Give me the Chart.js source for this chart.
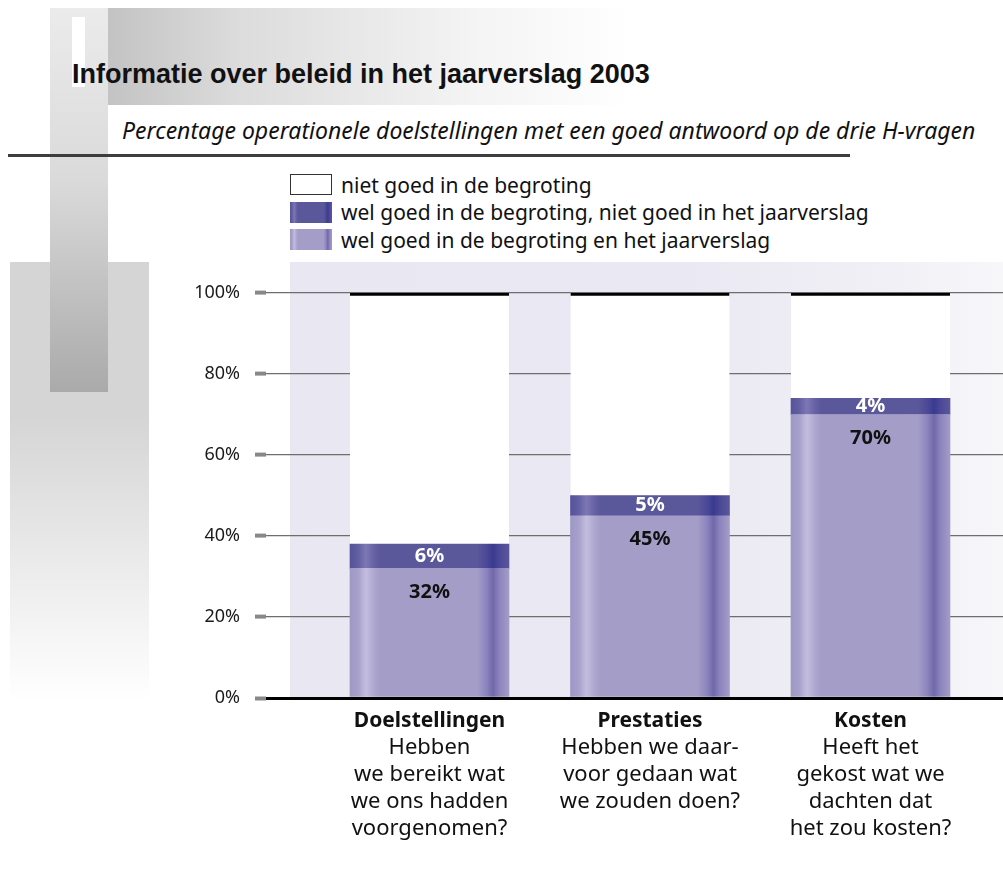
<!DOCTYPE html>
<html lang="nl">
<head>
<meta charset="utf-8">
<title>Informatie over beleid in het jaarverslag 2003</title>
<script src="https://cdn.jsdelivr.net/npm/chart.js@4.4.1/dist/chart.umd.min.js"></script>
<style>
  html, body { margin: 0; padding: 0; background: #fff; }
  body { width: 1003px; height: 881px; position: relative; overflow: hidden; font-family: "Noto Sans", sans-serif; color: #111; }
  .deco { position: absolute; }
  #side { left: 10px; top: 262px; width: 139px; height: 440px; background: linear-gradient(to bottom, #d5d5d5 0%, #d5d5d5 35%, #ffffff 100%); }
  #column { left: 50px; top: 8px; width: 58px; height: 384px; background: linear-gradient(to bottom, #ebebeb 0%, #dadada 45%, #aaaaaa 100%); }
  #banner { left: 108px; top: 8px; width: 525px; height: 97px; background: linear-gradient(to right, #c3c3c3 0%, #dcdcdc 25%, #f4f4f4 70%, #ffffff 100%); }
  #tick { left: 72px; top: 17px; width: 13px; height: 70px; background: #fff; }
  #plotbg { left: 290px; top: 262px; width: 713px; height: 436px; background: linear-gradient(to right, #e9e7f1 0%, #eae8f2 55%, #f1f0f6 85%, #f7f7fa 100%); }
  #rule { left: 8px; top: 154px; width: 842px; height: 3px; background: #3d3d3d; }
  h1 { position: absolute; left: 72px; top: 59px; margin: 0; font: bold 27px "Liberation Sans", Arial, sans-serif; white-space: nowrap; }
  h2 { position: absolute; left: 122px; top: 114px; margin: 0; font: italic 23px "Noto Sans", sans-serif; font-weight: normal; white-space: nowrap; }
  #legend { position: absolute; left: 290px; top: 171px; font-size: 21px; }
  #legend div { height: 27.5px; display: flex; align-items: center; white-space: nowrap; }
  #legend span.box { display: inline-block; width: 42px; height: 21px; margin-right: 9px; box-sizing: border-box; }
  #wrap { position: absolute; left: 0; top: 0; width: 1003px; height: 881px; }
</style>
</head>
<body>
<div class="deco" id="side"></div>
<div class="deco" id="column"></div>
<div class="deco" id="banner"></div>
<div class="deco" id="tick"></div>
<div class="deco" id="plotbg"></div>
<div class="deco" id="rule"></div>
<h1>Informatie over beleid in het jaarverslag 2003</h1>
<h2>Percentage operationele doelstellingen met een goed antwoord op de drie H-vragen</h2>
<div id="legend"></div>
<div id="wrap"><canvas id="chart"></canvas></div>

<script>
// categorieen en vragen onder de staven
const categories = ["Doelstellingen", "Prestaties", "Kosten"];
const questions = [
  ["Hebben", "we bereikt wat", "we ons hadden", "voorgenomen?"],
  ["Hebben we daar-", "voor gedaan wat", "we zouden doen?"],
  ["Heeft het", "gekost wat we", "dachten dat", "het zou kosten?"]
];

// percentages per categorie
const goedBeide = [32, 45, 70];      // wel goed in begroting en jaarverslag
const goedBegroting = [6, 5, 4];     // wel goed in begroting, niet in jaarverslag
const nietGoed = [62, 50, 26];       // niet goed in de begroting

const seriesLabels = [
  "wel goed in de begroting en het jaarverslag",
  "wel goed in de begroting, niet goed in het jaarverslag",
  "niet goed in de begroting"
];

const yTicks = [0, 20, 40, 60, 80, 100];

const BAR_W = 159;

// kleurverloop over de breedte van een staaf (licht streepje links, donker rechts)
const lightStops = [
  [0, "#9e98c5"], [0.05, "#a6a0cb"], [0.1, "#c3bedf"], [0.15, "#aea8d1"], [0.19, "#a39dc7"],
  [0.8, "#a39dc7"], [0.86, "#8b83bd"], [0.9, "#7168aa"], [0.94, "#8c84bd"], [1, "#a39dc7"]
];
const darkStops = [
  [0, "#57539a"], [0.05, "#625ea3"], [0.1, "#7d78b4"], [0.15, "#6762a5"], [0.19, "#5b579b"],
  [0.8, "#5b579b"], [0.86, "#4b4897"], [0.9, "#3a3a8f"], [0.94, "#4b4897"], [1, "#5b579b"]
];

function barFill(stops) {
  return function (ctx) {
    const x = ctx.chart.scales.x;
    if (ctx.type !== "data" || !x) return stops[4][1];
    const cx = x.getPixelForValue(ctx.dataIndex);
    if (!isFinite(cx)) return stops[4][1];
    const g = ctx.chart.ctx.createLinearGradient(cx - BAR_W / 2, 0, cx + BAR_W / 2, 0);
    stops.forEach(function (s) { g.addColorStop(s[0], s[1]); });
    return g;
  };
}

function cssGradient(stops) {
  return "linear-gradient(to right, " + stops.map(function (s) { return s[1] + " " + (s[0] * 100) + "%"; }).join(", ") + ")";
}

function points(values) {
  return values.map(function (v, i) { return { x: i, y: v }; });
}

// percentages in de staven
const valueLabels = {
  id: "valueLabels",
  afterDatasetsDraw(chart) {
    const ctx = chart.ctx;
    ctx.save();
    ctx.font = "bold 20px 'Noto Sans', sans-serif";
    ctx.textAlign = "center";
    ctx.textBaseline = "middle";
    chart.getDatasetMeta(1).data.forEach(function (bar, i) {
      ctx.fillStyle = "#fff";
      ctx.fillText(goedBegroting[i] + "%", bar.x, (bar.y + bar.base) / 2);
    });
    chart.getDatasetMeta(0).data.forEach(function (bar, i) {
      ctx.fillStyle = "#111";
      ctx.fillText(goedBeide[i] + "%", bar.x, bar.y + 24);
    });
    ctx.restore();
  }
};

// categorienaam vet, daaronder de vraag
const categoryLabels = {
  id: "categoryLabels",
  afterDraw(chart) {
    const ctx = chart.ctx;
    const x = chart.scales.x;
    const top = chart.chartArea.bottom + 23;
    ctx.save();
    ctx.textAlign = "center";
    ctx.textBaseline = "middle";
    ctx.fillStyle = "#111";
    categories.forEach(function (name, i) {
      const cx = x.getPixelForValue(i);
      ctx.font = "bold 21px 'Noto Sans', sans-serif";
      ctx.fillText(name, cx, top);
      ctx.font = "22px 'Noto Sans', sans-serif";
      questions[i].forEach(function (line, j) {
        ctx.fillText(line, cx, top + 27 * (j + 1));
      });
    });
    ctx.restore();
  }
};

const datasets = [
  { label: seriesLabels[0], data: points(goedBeide), backgroundColor: barFill(lightStops), borderWidth: 0 },
  { label: seriesLabels[1], data: points(goedBegroting), backgroundColor: barFill(darkStops), borderWidth: 0 },
  { label: seriesLabels[2], data: points(nietGoed), backgroundColor: "#ffffff",
    borderColor: "#000", borderWidth: { top: 3, left: 0, right: 0, bottom: 0 }, borderSkipped: false }
];

// legenda, van boven naar beneden in omgekeerde volgorde van de reeksen
const legendFills = [cssGradient(lightStops), cssGradient(darkStops), "#ffffff"];
const legend = document.getElementById("legend");
[2, 1, 0].forEach(function (i) {
  const row = document.createElement("div");
  const box = document.createElement("span");
  box.className = "box";
  box.style.background = legendFills[i];
  if (i === 2) box.style.border = "1px solid #333";
  row.appendChild(box);
  row.appendChild(document.createTextNode(seriesLabels[i]));
  legend.appendChild(row);
});

new Chart(document.getElementById("chart"), {
  type: "bar",
  data: { datasets: datasets },
  plugins: [valueLabels, categoryLabels],
  options: {
    responsive: true,
    maintainAspectRatio: false,
    animation: false,
    events: [],
    barThickness: BAR_W,
    layout: { padding: { top: 293, bottom: 183, left: 0, right: 0 } },
    plugins: { legend: { display: false }, tooltip: { enabled: false } },
    scales: {
      x: {
        type: "linear",
        bounds: "data",
        offset: false,
        min: -0.7415,
        max: 2.6009,
        stacked: true,
        display: false,
        ticks: { includeBounds: false, stepSize: 1 }
      },
      y: {
        stacked: true,
        min: 0,
        max: 100,
        afterFit: function (scale) { scale.width = 266; },
        afterBuildTicks: function (scale) { scale.ticks = yTicks.map(function (v) { return { value: v }; }); },
        border: { display: false },
        grid: {
          color: function (c) { return c.tick && c.tick.value === 0 ? "#000" : "#6e6e6e"; },
          lineWidth: function (c) { return c.tick && c.tick.value === 0 ? 3 : 1.2; },
          tickColor: "#888",
          tickWidth: 4,
          tickLength: 11
        },
        ticks: {
          padding: 15,
          color: "#1a1a1a",
          font: { family: "'Noto Sans', sans-serif", size: 18 },
          callback: function (v) { return v + "%"; }
        }
      }
    }
  }
});
</script>
</body>
</html>
